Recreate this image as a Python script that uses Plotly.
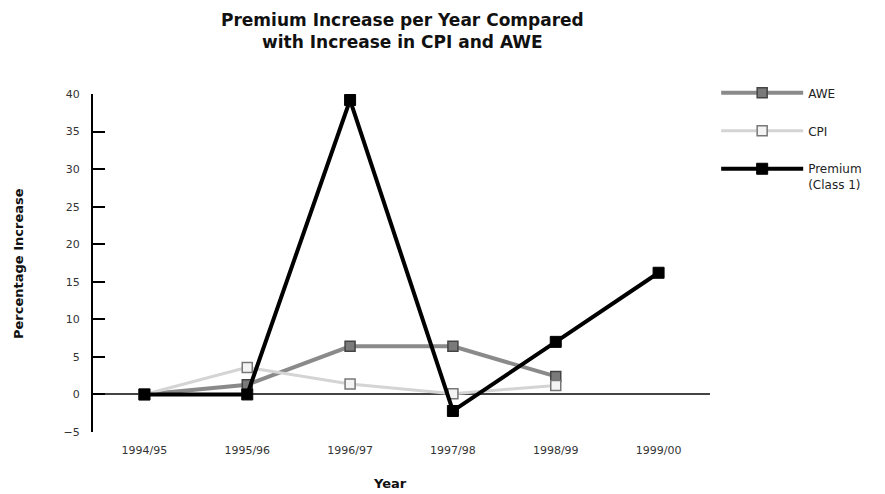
import plotly.graph_objects as go

years = ["1994/95", "1995/96", "1996/97", "1997/98", "1998/99", "1999/00"]
awe = [0, 1.3, 6.4, 6.4, 2.4, None]
cpi = [0, 3.6, 1.4, 0.1, 1.2, None]
premium = [0, 0, 39.2, -2.2, 7.0, 16.2]
y_ticks = [-5, 0, 5, 10, 15, 20, 25, 30, 35, 40]

FONT = "'DejaVu Sans', sans-serif"

# page body has an 8px margin, so the figure is 8px smaller than the window
W, H = 877, 486
L, R, T, B = 85, 175, 86, 62
PW, PH = W - L - R, H - T - B

def px_x(x):
    return (x - L) / PW

def px_y(y):
    return (H - B - y) / PH

fig = go.Figure()
fig.add_trace(go.Scatter(
    x=list(range(len(years))), y=awe, name="AWE", mode="lines+markers",
    legendgroup="a",
    line=dict(color="#8a8a8a", width=4),
    marker=dict(symbol="square", size=10, color="#7a7a7a", line=dict(color="#444", width=1.5)),
))
fig.add_trace(go.Scatter(
    x=list(range(len(years))), y=cpi, name="CPI", mode="lines+markers",
    legendgroup="b",
    line=dict(color="#d4d4d4", width=3),
    marker=dict(symbol="square", size=10, color="#f4f4f4", line=dict(color="#777", width=1.5)),
))
fig.add_trace(go.Scatter(
    x=list(range(len(years))), y=premium, name="Premium<br>(Class 1)", mode="lines+markers",
    legendgroup="c",
    line=dict(color="#000000", width=4),
    marker=dict(symbol="square", size=11, color="#000000", line=dict(color="#000", width=1)),
))

fig.update_layout(
    width=W, height=H,
    margin=dict(l=L, r=R, t=T, b=B),
    paper_bgcolor="white", plot_bgcolor="white",
    font=dict(family=FONT, size=12, color="#222"),
    showlegend=True,
    legend=dict(
        x=1.01, xanchor="left", y=1.046, yanchor="top",
        itemwidth=82, traceorder="grouped", tracegroupgap=19, valign="top",
        font=dict(family=FONT, size=12, color="#222"),
        bgcolor="rgba(0,0,0,0)",
    ),
    annotations=[
        dict(text="<b>Premium Increase per Year Compared<br>with Increase in CPI and AWE</b>",
             xref="paper", yref="paper", x=px_x(394), y=px_y(23),
             showarrow=False, xanchor="center", yanchor="middle",
             font=dict(family=FONT, size=17, color="#111")),
        dict(text="<b>Percentage Increase</b>", xref="paper", yref="paper",
             x=px_x(10), y=px_y(256), textangle=-90, showarrow=False,
             xanchor="center", yanchor="middle", font=dict(family=FONT, size=13, color="#111")),
        dict(text="<b>Year</b>", xref="paper", yref="paper",
             x=px_x(382), y=px_y(476), showarrow=False,
             xanchor="center", yanchor="middle", font=dict(family=FONT, size=13, color="#111")),
    ],
)
fig.update_xaxes(
    range=[-0.5, 5.5], automargin=False,
    tickmode="array", tickvals=list(range(len(years))), ticktext=years,
    showline=False, showgrid=False, zeroline=False, ticks="",
    ticklabelstandoff=10,
    tickfont=dict(size=11, color="#333"),
)
fig.update_yaxes(
    range=[-5, 40], automargin=False,
    tickmode="array", tickvals=y_ticks,
    showline=True, linecolor="#000", linewidth=2,
    ticks="inside", ticklen=12, tickwidth=2, tickcolor="#000",
    showgrid=False,
    zeroline=True, zerolinecolor="#444", zerolinewidth=2,
    ticklabelstandoff=9,
    tickfont=dict(size=11, color="#333"),
)

fig.write_html("out.html")
